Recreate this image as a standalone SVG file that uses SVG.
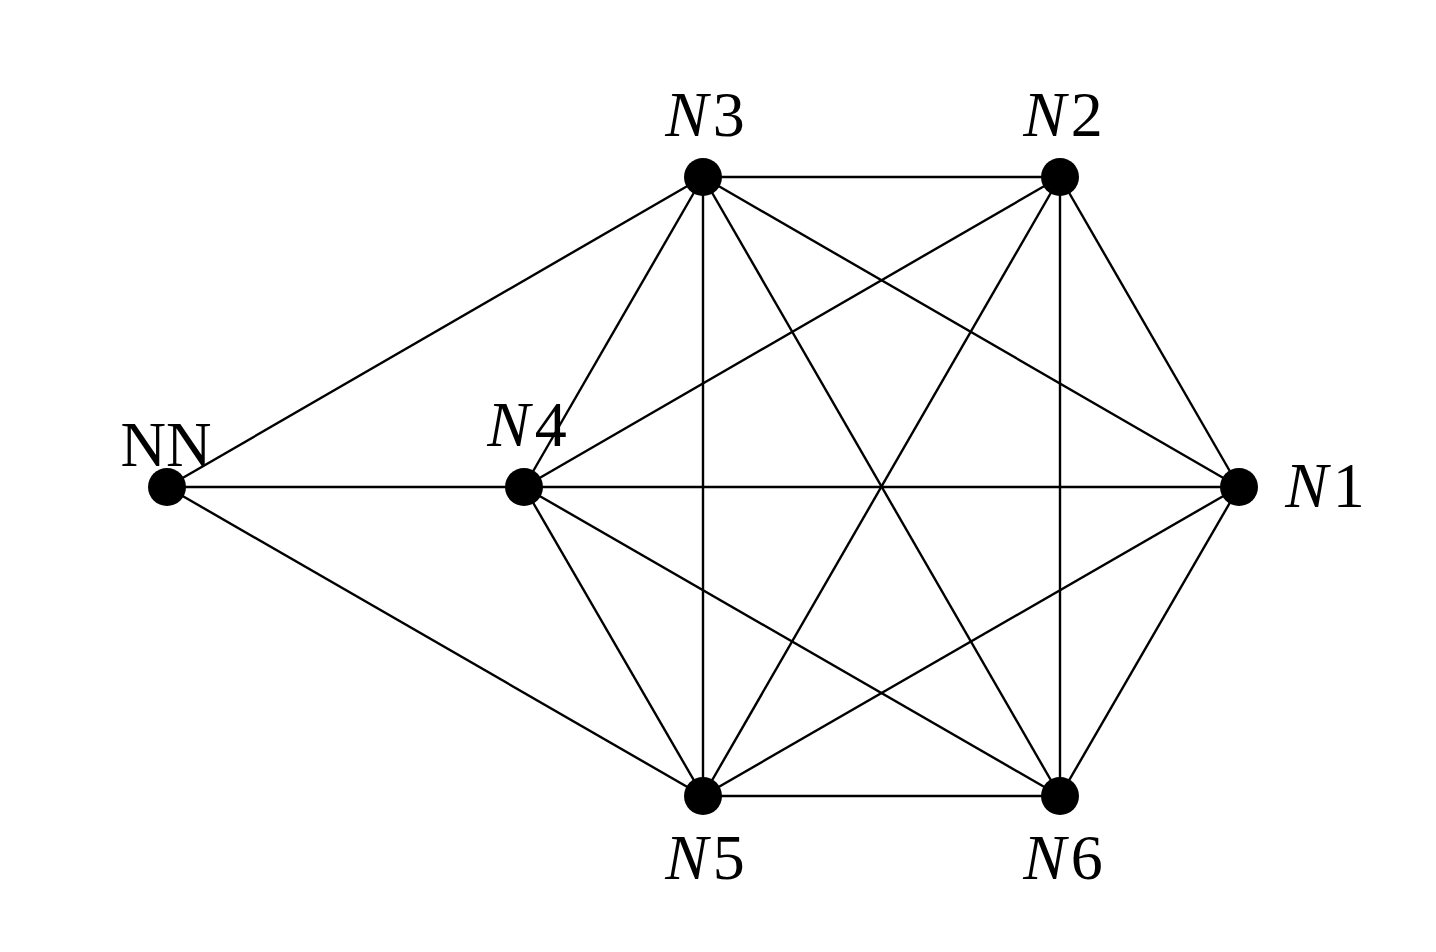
<svg xmlns="http://www.w3.org/2000/svg" width="1436" height="952" viewBox="0 0 1436 952">
<style>
.e{stroke:#000;stroke-width:2.4;fill:none}
.n{fill:#000}
.l{font-family:"Liberation Serif",serif;font-size:64px;fill:#000;text-anchor:middle}
.i{font-style:italic}
.d{font-style:normal}
</style>
<rect width="1436" height="952" fill="#fff"/>
<g id="edges" class="e">
<line x1="167" y1="487" x2="703" y2="177"/>
<line x1="167" y1="487" x2="524" y2="487"/>
<line x1="167" y1="487" x2="703" y2="796"/>
<line x1="524" y1="487" x2="703" y2="177"/>
<line x1="524" y1="487" x2="1060" y2="177"/>
<line x1="524" y1="487" x2="1239" y2="487"/>
<line x1="524" y1="487" x2="703" y2="796"/>
<line x1="524" y1="487" x2="1060" y2="796"/>
<line x1="703" y1="177" x2="1060" y2="177"/>
<line x1="703" y1="177" x2="703" y2="796"/>
<line x1="703" y1="177" x2="1060" y2="796"/>
<line x1="703" y1="177" x2="1239" y2="487"/>
<line x1="1060" y1="177" x2="1239" y2="487"/>
<line x1="1060" y1="177" x2="1060" y2="796"/>
<line x1="1060" y1="177" x2="703" y2="796"/>
<line x1="1239" y1="487" x2="1060" y2="796"/>
<line x1="1239" y1="487" x2="703" y2="796"/>
<line x1="703" y1="796" x2="1060" y2="796"/>
</g>
<g id="NN"><circle class="n" cx="167" cy="487" r="19"/><text class="l" x="166" y="466" textLength="91" lengthAdjust="spacingAndGlyphs" font-size="62">NN</text></g>
<g id="N4"><circle class="n" cx="524" cy="487" r="19"/><text class="l i" x="527" y="446">N<tspan class="d" dx="5">4</tspan></text></g>
<g id="N3"><circle class="n" cx="703" cy="177" r="19"/><text class="l i" x="705" y="136">N<tspan class="d" dx="5">3</tspan></text></g>
<g id="N2"><circle class="n" cx="1060" cy="177" r="19"/><text class="l i" x="1063" y="136">N<tspan class="d" dx="5">2</tspan></text></g>
<g id="N1"><circle class="n" cx="1239" cy="487" r="19"/><text class="l i" x="1325" y="507">N<tspan class="d" dx="5">1</tspan></text></g>
<g id="N5"><circle class="n" cx="703" cy="796" r="19"/><text class="l i" x="705" y="879">N<tspan class="d" dx="5">5</tspan></text></g>
<g id="N6"><circle class="n" cx="1060" cy="796" r="19"/><text class="l i" x="1063" y="879">N<tspan class="d" dx="5">6</tspan></text></g>
</svg>
